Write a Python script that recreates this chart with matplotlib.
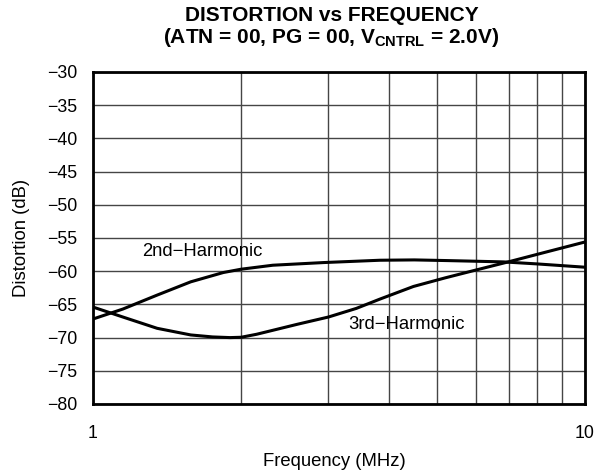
import numpy as np
import matplotlib.pyplot as plt

plt.rcParams['font.family'] = ['Liberation Sans', 'DejaVu Sans']
plt.rcParams['mathtext.fontset'] = 'custom'
plt.rcParams['mathtext.rm'] = 'Liberation Sans'
plt.rcParams['mathtext.bf'] = 'Liberation Sans:bold'

freq_2nd = [1.0, 1.15, 1.35, 1.58, 1.84, 2.0, 2.32, 2.94, 3.83, 4.5, 5.24, 6.0, 6.83, 7.98, 10.0]
dist_2nd = [-67.2, -65.7, -63.6, -61.6, -60.2, -59.7, -59.1, -58.7, -58.35, -58.3, -58.4, -58.5,
            -58.6, -58.9, -59.4]

freq_3rd = [1.0, 1.15, 1.35, 1.58, 1.75, 1.9, 2.0, 2.15, 2.32, 2.6, 3.01, 3.43, 3.83, 4.48,
            5.2, 6.02, 6.98, 8.35, 10.0]
dist_3rd = [-65.4, -66.9, -68.6, -69.6, -69.9, -70.0, -69.95, -69.5, -68.9, -68.0, -66.9, -65.6,
            -64.2, -62.3, -61.0, -59.8, -58.6, -57.1, -55.6]

fig = plt.figure(figsize=(6.05, 4.76), dpi=100)
ax = fig.add_axes([93 / 605, 72 / 476, 492 / 605, 332 / 476])

ax.plot(freq_2nd, dist_2nd, color='black', lw=2.2)
ax.plot(freq_3rd, dist_3rd, color='black', lw=2.2)

ax.set_xscale('log')
ax.set_xlim(1, 10)
ax.set_ylim(-80, -30)
ax.set_xticks([1, 10])
ax.set_xticklabels(['1', '10'])
ax.set_xticks([2, 3, 4, 5, 6, 7, 8, 9], minor=True)
ax.set_xticklabels([], minor=True)
ax.set_yticks(np.arange(-80, -29, 5))
ax.grid(True, which='both', axis='x', color='#454545', lw=1)
ax.grid(True, axis='y', color='#454545', lw=1)
ax.tick_params(which='both', length=0, labelsize=12.8)
ax.tick_params(axis='y', pad=11)
ax.tick_params(axis='x', pad=15)
for s in ax.spines.values():
    s.set_linewidth(2)

ax.text(1.258, -57.0, '2nd\u2212Harmonic', fontsize=13.3, va='center')
ax.text(3.3, -68.1, '3rd\u2212Harmonic', fontsize=13.3, va='center')

ax.set_xlabel('Frequency (MHz)', fontsize=13.3)
ax.set_ylabel('Distortion (dB)', fontsize=13.3)
ax.xaxis.set_label_coords(0.49, -0.148)
ax.yaxis.set_label_coords(-0.128, 0.5)

fig.text(0.548, 0.968, 'DISTORTION vs FREQUENCY', fontsize=15, fontweight='bold',
         ha='center', va='center')
fig.text(0.548, 0.922, r'(ATN = 00, PG = 00, V$_{\mathbf{CNTRL}}$ = 2.0V)', fontsize=15,
         fontweight='bold', ha='center', va='center')

fig.savefig('out.png', dpi=100)
